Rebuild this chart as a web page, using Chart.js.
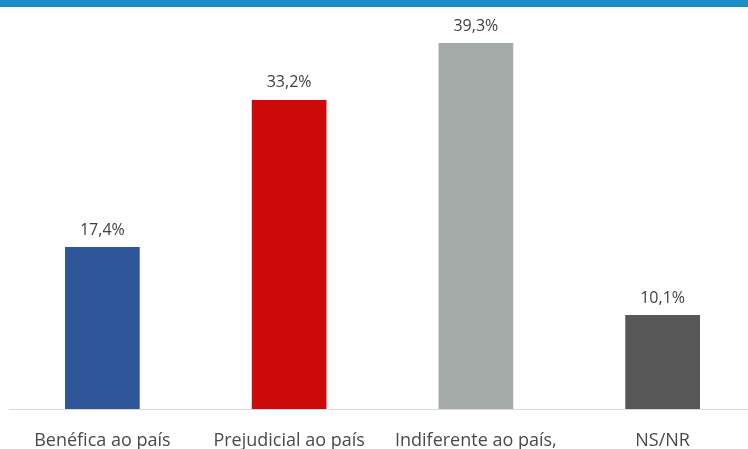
<!DOCTYPE html>
<html>
<head>
<meta charset="utf-8">
<script src="https://cdn.jsdelivr.net/npm/chart.js@4"></script>
<style>
  html, body { margin: 0; padding: 0; background: #fff; overflow: hidden; width: 748px; height: 449px; }
  #stripe { height: 7px; background: #1a8cc6; }
  #wrap { position: relative; width: 756px; height: 442px; }
</style>
</head>
<body>
<div id="stripe"></div>
<div id="wrap"><canvas id="chart" width="756" height="442"></canvas></div>
<script>
const categories = ['Benéfica ao país', 'Prejudicial ao país', 'Indiferente ao país,', 'NS/NR'];
const values = [17.4, 33.2, 39.3, 10.1];
const valueLabels = ['17,4%', '33,2%', '39,3%', '10,1%'];
const barColors = ['#2e5597', '#cc0a0a', '#a3aaa8', '#575757'];

// Draw the percentage above each bar
const valueLabelPlugin = {
  id: 'valueLabels',
  afterDatasetsDraw(chart) {
    const ctx = chart.ctx;
    const meta = chart.getDatasetMeta(0);
    ctx.save();
    ctx.font = '16px "Open Sans", sans-serif';
    ctx.fillStyle = '#404040';
    ctx.textAlign = 'center';
    ctx.textBaseline = 'middle';
    meta.data.forEach((bar, i) => {
      ctx.fillText(valueLabels[i], bar.x, bar.y - 17);
    });
    ctx.restore();
  }
};

new Chart(document.getElementById('chart'), {
  type: 'bar',
  data: {
    labels: categories,
    datasets: [{
      data: values,
      backgroundColor: barColors,
      barPercentage: 0.4,
      categoryPercentage: 1.0,
    }],
  },
  options: {
    responsive: false,
    maintainAspectRatio: false,
    animation: false,
    layout: { padding: { left: 9, right: 0, top: 29.6, bottom: 0 } },
    plugins: { legend: { display: false }, tooltip: { enabled: false } },
    scales: {
      x: {
        grid: { display: false },
        border: { display: true, color: '#d9d9d9', width: 1 },
        ticks: {
          padding: 13,
          color: '#4a4a4a',
          font: { size: 18, family: '"Open Sans", sans-serif' },
          maxRotation: 0,
          autoSkip: false,
        },
        afterFit(scale) { scale.height = 40; },
      },
      y: { display: false, min: 0, max: 40 },
    },
  },
  plugins: [valueLabelPlugin],
});
</script>
</body>
</html>
